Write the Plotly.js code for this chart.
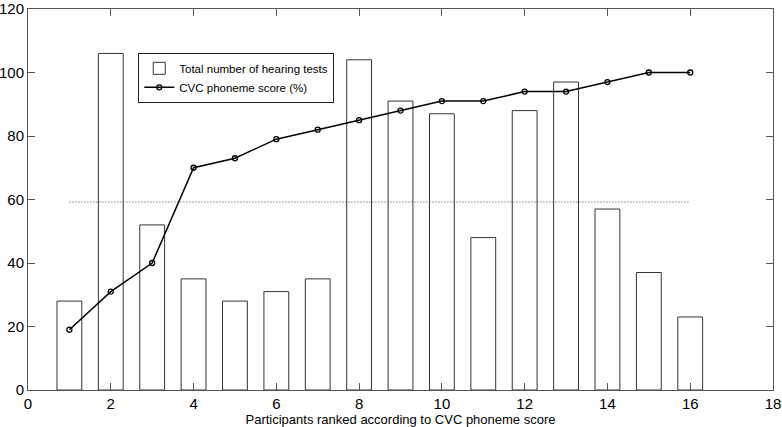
<!DOCTYPE html>
<html>
<head>
<meta charset="utf-8">
<script src="https://cdn.plot.ly/plotly-3.0.1.min.js"></script>
<style>
  html, body { margin: 0; padding: 0; background: #fff; }
  #chart { width: 782px; height: 427px; }
</style>
</head>
<body>
<div id="chart"></div>
<script>
// participants ranked 1..16 by CVC phoneme score
const participants = [1, 2, 3, 4, 5, 6, 7, 8, 9, 10, 11, 12, 13, 14, 15, 16];
const hearingTests = [28, 106, 52, 35, 28, 31, 35, 104, 91, 87, 48, 88, 97, 57, 37, 23];
const cvcScore = [19, 31, 40, 70, 73, 79, 82, 85, 88, 91, 91, 94, 94, 97, 100, 100];
const xTicks = [0, 2, 4, 6, 8, 10, 12, 14, 16, 18];
const yTicks = [0, 20, 40, 60, 80, 100, 120];

// dotted line = mean number of hearing tests
const meanTests = hearingTests.reduce((a, b) => a + b, 0) / hearingTests.length;

const bars = {
    x: participants,
    y: hearingTests,
    name: 'Total number of hearing tests',
    type: 'bar',
    width: 0.6,
    marker: {color: 'white', line: {color: '#333', width: 1}}
};

const score = {
    x: participants,
    y: cvcScore,
    name: 'CVC phoneme score (%)',
    type: 'scatter',
    mode: 'lines+markers',
    line: {color: 'black', width: 1.5},
    marker: {symbol: 'circle-open', size: 5, color: 'black', line: {width: 1.3}}
};

const meanLine = {
    x: [participants[0], participants[participants.length - 1]],
    y: [meanTests, meanTests],
    type: 'scatter',
    mode: 'lines',
    showlegend: false,
    hoverinfo: 'skip',
    line: {color: '#444', width: 1, dash: '1px,2px'}
};

const layout = {
    width: 782,
    height: 427,
    paper_bgcolor: 'white',
    plot_bgcolor: 'white',
    font: {family: '"Liberation Sans", Arial, sans-serif', color: 'black', size: 15},
    margin: {l: 28, r: 9, t: 9, b: 37},
    showlegend: true,
    legend: {
        x: 0.148, y: 0.885, xanchor: 'left', yanchor: 'top',
        bordercolor: '#222', borderwidth: 1, bgcolor: 'white',
        font: {size: 11.5}, tracegroupgap: 0, itemwidth: 30
    },
    xaxis: {
        range: [0, 18],
        tickvals: xTicks,
        ticks: 'inside', ticklen: 7, tickcolor: '#555',
        showline: true, linecolor: '#555', linewidth: 1, mirror: 'allticks',
        showgrid: false, zeroline: false,
        title: {text: 'Participants ranked according to CVC phoneme score', font: {size: 13}, standoff: 2}
    },
    yaxis: {
        range: [0, 120],
        tickvals: yTicks,
        ticktext: yTicks.map(String),
        tickmode: 'array',
        ticks: 'inside', ticklen: 7, tickcolor: '#555',
        showline: true, linecolor: '#555', linewidth: 1, mirror: 'allticks',
        showgrid: false, zeroline: false,
        automargin: false,
        ticklabeloverflow: 'allow'
    }
};

Plotly.newPlot('chart', [bars, score, meanLine], layout, {staticPlot: true});
</script>
</body>
</html>
